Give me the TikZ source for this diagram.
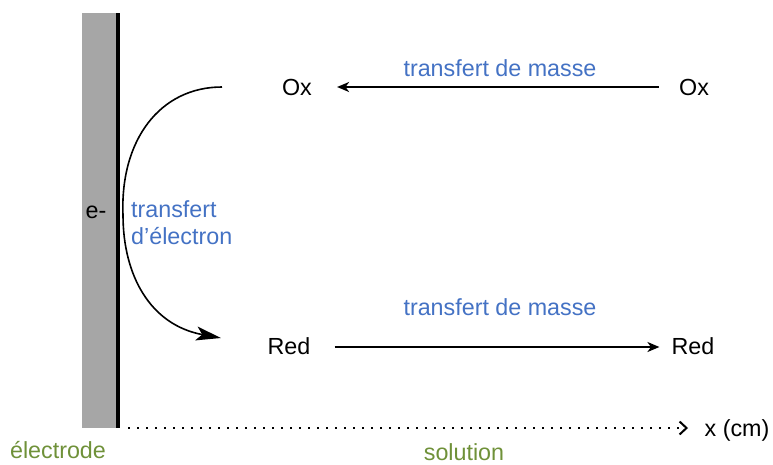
\documentclass[tikz,border=0pt]{standalone}
\usepackage{fontspec}
\setmainfont{Liberation Sans}
\usepackage{tikz}
\usetikzlibrary{arrows.meta,calc}
\definecolor{txtblue}{HTML}{4472C4}
\definecolor{txtgreen}{HTML}{6F9139}
\definecolor{elgray}{HTML}{A6A6A6}

\begin{document}
\begin{tikzpicture}[x=1pt,y=-1pt,
        every node/.style={font=\fontsize{23.3}{27}\selectfont},
        species/.style={inner sep=0pt},
        bluetxt/.style={text=txtblue,inner sep=0pt},
        greentxt/.style={text=txtgreen,inner sep=0pt},
        masse/.style={line width=1.8pt,-{Stealth[length=12pt,width=10pt,inset=3.5pt]}},
        echange/.style={line width=1.6pt,-{Stealth[length=25pt,width=14pt,inset=6pt]}}]
        \useasboundingbox (0,0) rectangle (773,464);
        %Electrode
        \fill[elgray] (82,13) rectangle (116,428);
        \draw[line width=4pt] (118,13) -- (118,428);
        \node[species] (elec) at (96,212) {e-};
        %Species
        \node[species] (ox1) at (297,87) {Ox};
        \node[species] (ox2) at (694,87) {Ox};
        \node[species] (red1) at (289,346) {Red};
        \node[species] (red2) at (693,346) {Red};
        %Mass transfer
        \draw[masse] ([xshift=-20pt]ox2.west) -- ([xshift=25pt]ox1.east);
        \draw[masse] ([xshift=24pt,yshift=-1pt]red1.east) -- ([xshift=-12pt,yshift=-1pt]red2.west);
        \node[bluetxt] (masse1) at (500,68) {transfert de masse};
        \node[bluetxt] (masse2) at (500,307) {transfert de masse};
        %Electron transfer
        \coordinate (c0) at (222,87);
        \coordinate (c1) at (123,215);
        \coordinate (c2) at (221,338);
        \draw[echange] (c0) .. controls (160,87) and (120,140) .. (c1)
                       .. controls (123,275) and (150,325) .. (c2);
        \node[bluetxt,anchor=west,align=left] (elt) at (131,223) {transfert\\d’électron};
        %Axis
        \coordinate (a0) at (128,428);
        \coordinate (a1) at (688,428);
        \draw[line width=1.5pt,dash pattern=on 1.5pt off 7.5pt,
              -{Straight Barb[length=7pt,width=13pt,line width=2pt]}] (a0) -- (a1);
        \node[species] (xcm) at (737,430) {x (cm)};
        \node[greentxt] (electrode) at (58,450) {électrode};
        \node[greentxt] (solution) at (464,452) {solution};
\end{tikzpicture}
\end{document}
